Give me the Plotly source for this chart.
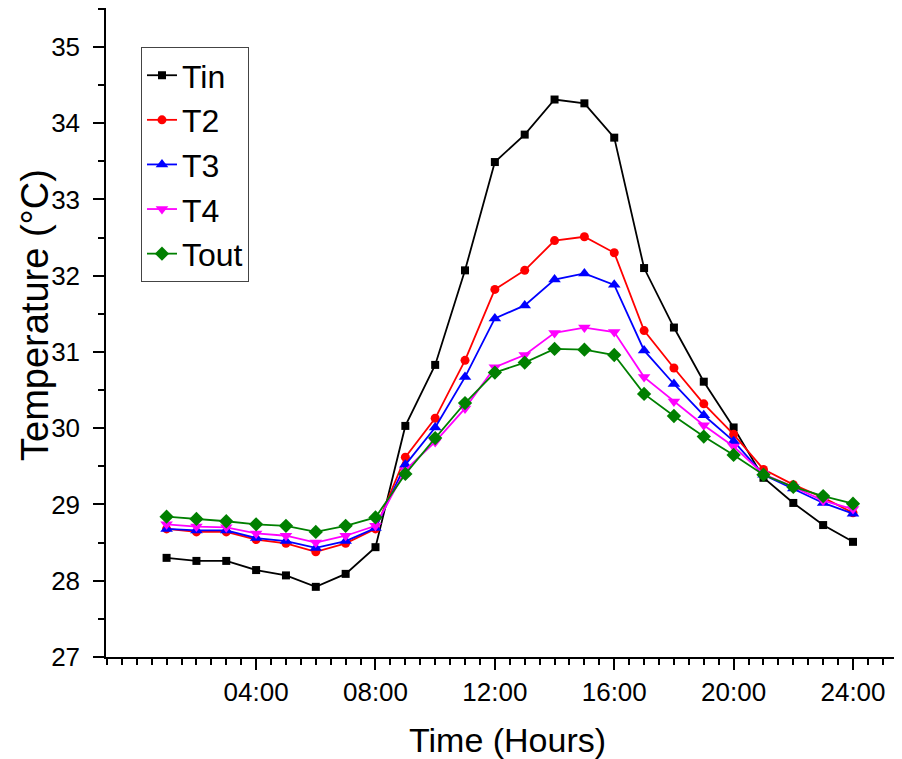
import plotly.graph_objects as go

hours = list(range(1, 25))
tin = [28.30, 28.26, 28.26, 28.14, 28.07, 27.92, 28.09, 28.44, 30.03, 30.83, 32.07, 33.49,
       33.85, 34.31, 34.26, 33.81, 32.10, 31.32, 30.61, 30.01, 29.35, 29.02, 28.73, 28.51]
t2 = [28.68, 28.64, 28.64, 28.54, 28.49, 28.38, 28.49, 28.68, 29.62, 30.13, 30.89, 31.82,
      32.07, 32.46, 32.51, 32.30, 31.28, 30.79, 30.32, 29.92, 29.46, 29.26, 29.09, 28.89]
t3 = [28.68, 28.66, 28.66, 28.56, 28.52, 28.43, 28.52, 28.69, 29.52, 30.01, 30.67, 31.44,
      31.61, 31.95, 32.03, 31.88, 31.02, 30.58, 30.17, 29.83, 29.39, 29.21, 29.02, 28.88]
t4 = [28.74, 28.71, 28.70, 28.62, 28.59, 28.50, 28.59, 28.72, 29.45, 29.82, 30.26, 30.80,
      30.96, 31.25, 31.32, 31.26, 30.67, 30.35, 30.04, 29.76, 29.40, 29.23, 29.05, 28.94]
tout = [28.84, 28.81, 28.78, 28.74, 28.72, 28.64, 28.72, 28.83, 29.40, 29.87, 30.33, 30.73,
        30.86, 31.04, 31.03, 30.96, 30.45, 30.16, 29.89, 29.65, 29.39, 29.23, 29.11, 29.01]

tick_vals = [4, 8, 12, 16, 20, 24]
tick_text = ["04:00", "08:00", "12:00", "16:00", "20:00", "24:00"]
x_title = "Time (Hours)"
y_title = "Temperature (°C)"

series = [
    ("Tin", tin, "#000000", "square", 8),
    ("T2", t2, "#FF0000", "circle", 9),
    ("T3", t3, "#0000FF", "triangle-up", 11),
    ("T4", t4, "#FF00FF", "triangle-down", 11),
    ("Tout", tout, "#008000", "diamond", 11),
]

FONT = "Liberation Sans, Arial, sans-serif"
fig = go.Figure()
for name, vals, color, sym, size in series:
    fig.add_trace(go.Scatter(
        x=hours, y=vals, name=name, mode="lines+markers",
        line=dict(color=color, width=1.8),
        marker=dict(symbol=sym, size=size, color=color, line=dict(width=0)),
    ))

fig.update_layout(
    width=902, height=751,
    margin=dict(l=98, r=0, t=0, b=102, pad=0),
    paper_bgcolor="white", plot_bgcolor="white",
    font=dict(family=FONT, color="black"),
    showlegend=True,
    legend=dict(
        x=0.0435, y=0.94, xanchor="left", yanchor="top",
        bgcolor="white", bordercolor="#444444", borderwidth=1,
        font=dict(size=32, family=FONT), tracegroupgap=0,
    ),
    xaxis=dict(
        range=[-1.03, 25.91], automargin=False,
        tickmode="array", tickvals=tick_vals, ticktext=tick_text,
        showgrid=False, zeroline=False,
        showline=True, linecolor="black", linewidth=1.5, mirror=True,
        tickfont=dict(size=26, family=FONT),
        minor=dict(dtick=0.5, tick0=0, ticks="outside", ticklen=6, tickcolor="black", tickwidth=1.5),
    ),
    yaxis=dict(
        range=[27, 35.51], automargin=False,
        tickmode="linear", tick0=27, dtick=1,
        showgrid=False, zeroline=False,
        showline=True, linecolor="black", linewidth=1.5,
        ticks="outside", ticklen=11, tickwidth=1.5, tickcolor="black",
        tickfont=dict(size=26, family=FONT), ticklabelstandoff=8,
        minor=dict(dtick=0.5, ticks="outside", ticklen=6, tickcolor="black", tickwidth=1.5),
    ),
    annotations=[
        dict(text=x_title, xref="paper", yref="paper", x=0.4995, y=-0.128,
             xanchor="center", yanchor="middle", showarrow=False,
             font=dict(size=34, family=FONT, color="black")),
        dict(text=y_title, xref="paper", yref="paper", x=-0.0883, y=0.527,
             xanchor="center", yanchor="middle", showarrow=False, textangle=-90,
             font=dict(size=38, family=FONT, color="black")),
    ],
)

# hourly (long) x ticks drawn over the half-hour minor ticks
fig.update_xaxes(ticks="outside", ticklen=11, tickwidth=1.5, tickcolor="black")

fig.write_html("out.html")
